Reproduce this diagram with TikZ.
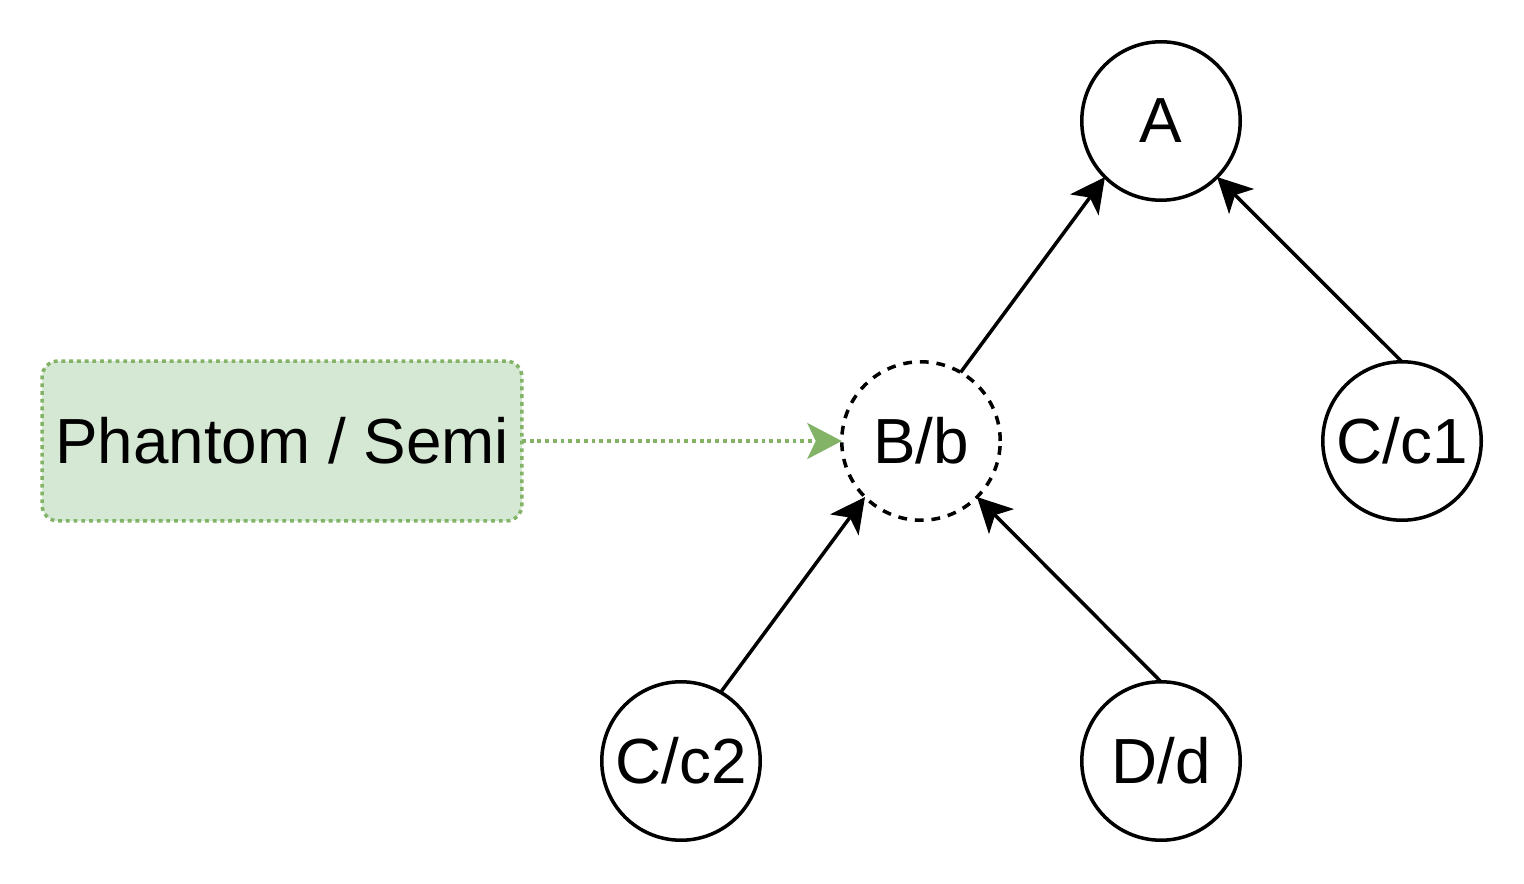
\documentclass[tikz,border=0pt]{standalone}
\usepackage{fontspec}
\setmainfont{Liberation Sans}
\usetikzlibrary{arrows.meta}
\definecolor{gfill}{HTML}{D5E8D4}
\definecolor{gline}{HTML}{82B366}
\begin{document}
\begin{tikzpicture}[x=0.02cm,y=-0.02cm,
  every node/.style={font=\fontsize{36.3}{43}\selectfont, inner sep=0pt, outer sep=0pt},
  vtx/.style={circle, draw=black, line width=2pt, minimum size=3.17cm, fill=white},
  phantomvtx/.style={vtx, dash pattern=on 5pt off 4.5pt},
  notebox/.style={rectangle, rounded corners=0.32cm, draw=gline, fill=gfill, line width=2pt,
    dash pattern=on 2.2pt off 2.2pt, minimum width=9.6cm, minimum height=3.2cm},
  edge/.style={line width=2pt, draw=black, -{Stealth[length=0.69cm, width=0.7cm, inset=0.18cm]}},
  noteedge/.style={line width=2pt, draw=gline, dash pattern=on 2.2pt off 2.2pt,
    -{Stealth[length=0.69cm, width=0.72cm, inset=0.17cm, fill=gline]}}]
\useasboundingbox (0,0) rectangle (1524,884);
\node[vtx] (A) at (1161,121) {A};
\node[phantomvtx] (B) at (921,441) {B/b};
\node[vtx] (C1) at (1402,441) {C/c1};
\node[vtx] (C2) at (681,761) {C/c2};
\node[vtx] (D) at (1161,761) {D/d};
\node[notebox] (P) at (282,441) {Phantom / Semi};
\draw[edge] (B.60) -- (A.225);
\draw[edge] (C1.north) -- (A.315);
\draw[edge] (C2.60) -- (B.225);
\draw[edge] (D.north) -- (B.315);
\draw[noteedge] (P.east) -- (B.west);
\end{tikzpicture}
\end{document}
